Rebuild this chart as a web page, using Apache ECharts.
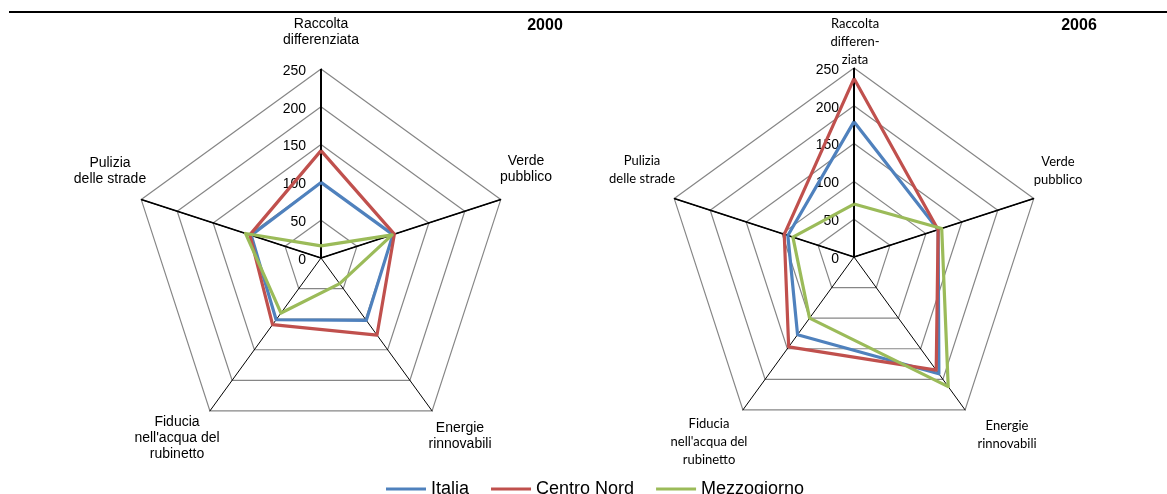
<!DOCTYPE html>
<html><head><meta charset="utf-8">
<script src="https://cdn.jsdelivr.net/npm/echarts@6/dist/echarts.min.js"></script>
<style>html,body{margin:0;padding:0;background:#fff}#c{width:1167px;height:494px}</style>
</head><body><div id="c"></div>
<script>
// Indicators in ECharts radar order (counter-clockwise from the top)
const indicators = ['Raccolta differenziata', 'Pulizia delle strade', "Fiducia nell'acqua del rubinetto", 'Energie rinnovabili', 'Verde pubblico'];
const labels2000 = ['Raccolta\ndifferenziata', 'Pulizia\ndelle strade', "Fiducia\nnell'acqua del\nrubinetto", 'Energie\nrinnovabili', 'Verde\npubblico'];
const labels2006 = ['Raccolta\ndifferen-\nziata', 'Pulizia\ndelle strade', "Fiducia\nnell'acqua del\nrubinetto", 'Energie\nrinnovabili', 'Verde\npubblico'];
const seriesNames = ['Italia', 'Centro Nord', 'Mezzogiorno'];
const italia2000 = [100, 97, 101, 102, 100];
const centroNord2000 = [142, 99, 109, 126, 102];
const mezzogiorno2000 = [16, 105, 90, 42, 99];
const italia2006 = [179, 92, 127, 191, 117];
const centroNord2006 = [236, 97, 147, 185, 117];
const mezzogiorno2006 = [70, 85, 100, 212, 122];
const tickLabels = [0, 50, 100, 150, 200, 250];
const years = ['2000', '2006'];

const axisMax = 250;
const colors = ['#4F81BD', '#C0504D', '#9BBB59'];
const R = 189;
const centers = [[321, 258], [854, 257]];
const data = [[italia2000, centroNord2000, mezzogiorno2000], [italia2006, centroNord2006, mezzogiorno2006]];
const axisLabelSets = [labels2000, labels2006];
// label anchor offsets from radar centre (layout)
const labelOffsets = [
  [[0, -226], [-211, -87], [-144, 180], [139, 178], [205, -89]],
  [[1, -215], [-212, -87], [-145, 185], [153, 178], [204, -86]]
];
const labelFonts = [
  {font: '14px "Liberation Sans", Arial, sans-serif', lh: 16},
  {font: '13px Lato, "Open Sans", sans-serif', lh: 18}
];
const titlePos = [[545, 26], [1079, 26]];

const chart = echarts.init(document.getElementById('c'), null, {renderer: 'canvas'});
const graphic = [];
graphic.push({type: 'line', shape: {x1: 9, y1: 12, x2: 1167, y2: 12}, style: {stroke: '#000', lineWidth: 2}});
for (let i = 0; i < 2; i++) {
  const [cx, cy] = centers[i];
  // thicker upper spokes
  [90, 162, 18].forEach(a => {
    const rad = a * Math.PI / 180;
    graphic.push({type: 'line', z: 1, shape: {x1: cx, y1: cy, x2: cx + R * Math.cos(rad), y2: cy - R * Math.sin(rad)}, style: {stroke: '#000', lineWidth: a === 90 ? 2 : 1.6}});
  });
  tickLabels.forEach(v => {
    graphic.push({type: 'text', x: cx - 15, y: cy - R * v / axisMax + 2, style: {text: String(v), align: 'right', verticalAlign: 'middle', font: '14px "Liberation Sans", Arial, sans-serif', fill: '#000'}});
  });
  axisLabelSets[i].forEach((t, k) => {
    graphic.push({type: 'text', x: cx + labelOffsets[i][k][0], y: cy + labelOffsets[i][k][1], style: {text: t, align: 'center', verticalAlign: 'middle', font: labelFonts[i].font, lineHeight: labelFonts[i].lh, fill: '#000'}});
  });
  graphic.push({type: 'text', x: titlePos[i][0], y: titlePos[i][1], style: {text: years[i], align: 'center', verticalAlign: 'middle', font: 'bold 16px "Liberation Sans", Arial, sans-serif', fill: '#000'}});
}

chart.setOption({
  animation: false,
  backgroundColor: '#fff',
  graphic: graphic,
  legend: {
    data: seriesNames, left: 381, top: 475, icon: 'rect', itemWidth: 40, itemHeight: 3, itemGap: 22,
    textStyle: {fontFamily: '"Liberation Sans", Arial, sans-serif', fontSize: 18, color: '#000'}
  },
  radar: centers.map(c => ({
    center: c, radius: R, startAngle: 90, splitNumber: 5, shape: 'polygon',
    indicator: indicators.map(n => ({name: n, min: 0, max: axisMax})),
    axisName: {show: false},
    axisLine: {lineStyle: {color: '#000', width: 1}},
    splitLine: {lineStyle: {color: '#868686', width: 1.2}},
    splitArea: {show: false},
    axisTick: {show: false},
    axisLabel: {show: false}
  })),
  series: [0, 1].map(i => ({
    type: 'radar', radarIndex: i, symbol: 'none', z: 2,
    data: seriesNames.map((n, k) => ({
      name: n, value: data[i][k],
      lineStyle: {color: colors[k], width: 3.2},
      itemStyle: {color: colors[k]}
    }))
  }))
});
</script></body></html>
